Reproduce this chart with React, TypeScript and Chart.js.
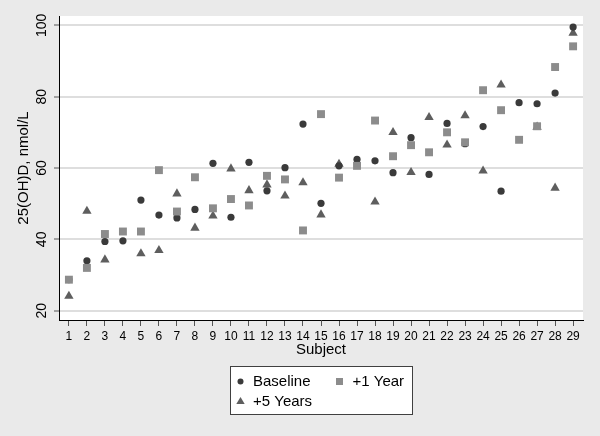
import React, { useEffect, useRef } from "react";
import { Chart, registerables } from "chart.js";

Chart.register(...registerables);

const subjects = [1, 2, 3, 4, 5, 6, 7, 8, 9, 10, 11, 12, 13, 14, 15, 16, 17, 18, 19, 20, 21, 22, 23, 24, 25, 26, 27, 28, 29];
const baseline = [28.7, 34.0, 39.4, 39.6, 51.0, 46.8, 46.0, 48.4, 61.3, 46.2, 61.6, 53.6, 60.1, 72.3, 50.1, 60.6, 62.4, 62.0, 58.7, 68.5, 58.2, 72.5, 66.8, 71.6, 53.5, 78.3, 78.0, 81.0, 99.5];
const oneYear = [28.7, 32.0, 41.5, 42.2, 42.2, 59.4, 47.8, 57.4, 48.7, 51.3, 49.5, 57.8, 56.8, 42.5, 75.1, 57.3, 60.6, 73.3, 63.3, 66.4, 64.4, 70.0, 67.2, 81.8, 76.2, 67.9, 71.7, 88.3, 94.1];
const fiveYears = [24.1, 47.9, 34.3, null, 36.0, 36.9, 52.8, 43.2, 46.6, 59.8, 53.7, 55.3, 52.2, 55.9, 46.9, 61.1, null, 50.5, 70.0, 58.8, 74.2, 66.5, 74.7, 59.2, 83.3, null, 71.5, 54.4, 97.8];
const yTicks = [20, 40, 60, 80, 100];
const seriesNames = ["Baseline", "+1 Year", "+5 Years"];
const xTitle = "Subject";
const yTitle = "25(OH)D, nmol/L";

const FONT = "'Liberation Sans', Arial, Helvetica, sans-serif";
const COL_BASE = "#3a3a3a";
const COL_ONE = "#8c8c8c";
const COL_FIVE = "#5e5e5e";

const bgPlugin = {
  id: "bgPlugin",
  beforeDraw(chart: any) {
    const { ctx, chartArea: ca, width, height } = chart;
    ctx.save();
    ctx.fillStyle = "#eaeaea";
    ctx.fillRect(0, 0, width, height);
    ctx.fillStyle = "#ffffff";
    ctx.fillRect(ca.left, ca.top, ca.right - ca.left, ca.bottom - ca.top);
    ctx.restore();
  },
};

const legendPlugin = {
  id: "boxLegend",
  afterDraw(chart: any) {
    const { ctx, chartArea: ca } = chart;
    const xs = chart.scales.x;
    const cx = (ca.left + ca.right) / 2;
    const boxW = 182;
    const boxH = 48;
    const bx = Math.round(cx - boxW / 2) + 0.5;
    const by = Math.round(xs.bottom + 7) + 0.5;
    ctx.save();
    ctx.fillStyle = "#ffffff";
    ctx.fillRect(bx, by, boxW, boxH);
    ctx.strokeStyle = "#404040";
    ctx.lineWidth = 1;
    ctx.strokeRect(bx, by, boxW, boxH);

    const r1 = by + 15;
    const r2 = by + 35;
    const c1 = bx + 10;
    const c2 = bx + 109;
    ctx.fillStyle = COL_BASE;
    ctx.beginPath();
    ctx.arc(c1, r1, 3, 0, Math.PI * 2);
    ctx.fill();
    ctx.fillStyle = COL_ONE;
    ctx.fillRect(c2 - 3.5, r1 - 3.5, 7, 7);
    ctx.fillStyle = COL_FIVE;
    ctx.beginPath();
    ctx.moveTo(c1, r2 - 4.5);
    ctx.lineTo(c1 + 4.2, r2 + 2.5);
    ctx.lineTo(c1 - 4.2, r2 + 2.5);
    ctx.closePath();
    ctx.fill();

    ctx.fillStyle = "#000000";
    ctx.font = "15px " + FONT;
    ctx.textBaseline = "middle";
    ctx.textAlign = "left";
    ctx.fillText(seriesNames[0], c1 + 12.5, r1);
    ctx.fillText(seriesNames[1], c2 + 13, r1);
    ctx.fillText(seriesNames[2], c1 + 12.5, r2);
    ctx.restore();
  },
};

export default function App() {
  const ref = useRef<HTMLCanvasElement | null>(null);
  useEffect(() => {
    if (!ref.current) return;
    const mk = (arr: (number | null)[]) => subjects.map((s, i) => ({ x: s, y: arr[i] }));
    const chart = new Chart(ref.current, {
      type: "scatter",
      data: {
        datasets: [
          {
            label: seriesNames[0],
            data: mk(baseline) as any,
            pointStyle: "circle",
            pointRadius: 3.6,
            backgroundColor: COL_BASE,
            borderColor: COL_BASE,
            borderWidth: 0,
            order: 1,
          },
          {
            label: seriesNames[1],
            data: mk(oneYear) as any,
            pointStyle: "rect",
            pointRadius: 5.6,
            backgroundColor: COL_ONE,
            borderColor: COL_ONE,
            borderWidth: 0,
            order: 0,
          },
          {
            label: seriesNames[2],
            data: mk(fiveYears) as any,
            pointStyle: "triangle",
            pointRadius: 5.4,
            backgroundColor: COL_FIVE,
            borderColor: COL_FIVE,
            borderWidth: 0,
            order: 2,
          },
        ],
      },
      options: {
        animation: false,
        responsive: false,
        events: [],
        layout: { padding: { left: 0, right: 17, top: 16, bottom: 436 - 320 - 39 } },
        plugins: { legend: { display: false }, tooltip: { enabled: false } },
        scales: {
          x: {
            type: "linear",
            min: 0.45,
            max: 29.55,
            afterBuildTicks: (s: any) => {
              s.ticks = subjects.map((v) => ({ value: v }));
            },
            afterFit: (s: any) => {
              s.height = 39;
            },
            ticks: {
              autoSkip: false,
              maxRotation: 0,
              minRotation: 0,
              padding: 3,
              color: "#000",
              font: { size: 12, family: FONT },
              callback: (v: any) => String(v),
            },
            grid: {
              display: true,
              drawOnChartArea: false,
              drawTicks: true,
              tickLength: 6,
              tickColor: "#555",
              tickWidth: 1,
            },
            border: { display: true, color: "#000", width: 1 },
            title: {
              display: true,
              text: xTitle,
              color: "#000",
              font: { size: 15, family: FONT },
              padding: { top: 0, bottom: 0 },
            },
          },
          y: {
            type: "linear",
            min: 17.4,
            max: 102.6,
            afterBuildTicks: (s: any) => {
              s.ticks = yTicks.map((v) => ({ value: v }));
            },
            afterFit: (s: any) => {
              s.width = 59;
            },
            ticks: {
              minRotation: 90,
              maxRotation: 90,
              crossAlign: "center",
              padding: 0,
              color: "#000",
              font: { size: 14, family: FONT },
            },
            grid: {
              display: true,
              drawOnChartArea: true,
              color: "#dedede",
              lineWidth: 2,
              drawTicks: true,
              tickLength: 5,
              tickColor: "#555",
              tickWidth: 1,
            },
            border: { display: true, color: "#000", width: 1 },
            title: {
              display: true,
              text: yTitle,
              color: "#000",
              font: { size: 15, family: FONT },
              padding: { top: 15, bottom: 0 },
            },
          },
        },
      },
      plugins: [bgPlugin, legendPlugin],
    });
    return () => chart.destroy();
  }, []);
  return (
    <div style={{ position: "fixed", left: 0, top: 0, width: 600, height: 436, background: "#eaeaea" }}>
      <canvas ref={ref} width={600} height={436} style={{ display: "block", width: 600, height: 436 }} />
    </div>
  );
}
